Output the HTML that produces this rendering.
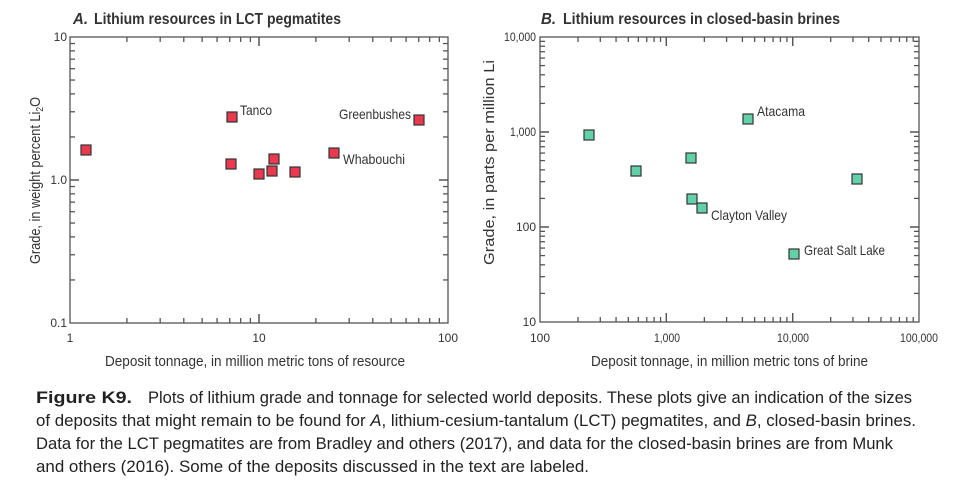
<!DOCTYPE html>
<html><head><meta charset="utf-8"><style>
body{margin:0;background:#fff}
svg{display:block;font-family:"Liberation Sans",sans-serif}
</style></head><body>
<svg id="s" width="960" height="494" viewBox="0 0 960 494">
<g fill="#333">
<text x="73" y="24" font-size="16" font-weight="bold" font-style="italic" textLength="15" lengthAdjust="spacingAndGlyphs">A.</text>
<text x="94" y="24" font-size="16" font-weight="bold" textLength="247" lengthAdjust="spacingAndGlyphs">Lithium resources in LCT pegmatites</text>
<text x="541" y="24" font-size="16" font-weight="bold" font-style="italic" textLength="15" lengthAdjust="spacingAndGlyphs">B.</text>
<text x="563" y="24" font-size="16" font-weight="bold" textLength="277" lengthAdjust="spacingAndGlyphs">Lithium resources in closed-basin brines</text>
<g font-size="12">
<text x="67" y="41" text-anchor="end">10</text>
<text x="67" y="184" text-anchor="end">1.0</text>
<text x="67" y="327" text-anchor="end">0.1</text>
<text x="70" y="342" text-anchor="middle">1</text>
<text x="259" y="342" text-anchor="middle">10</text>
<text x="448" y="342" text-anchor="middle">100</text>
<text x="536" y="41" text-anchor="end" textLength="32" lengthAdjust="spacingAndGlyphs">10,000</text>
<text x="536" y="136" text-anchor="end" textLength="26" lengthAdjust="spacingAndGlyphs">1,000</text>
<text x="536" y="231" text-anchor="end">100</text>
<text x="536" y="326" text-anchor="end">10</text>
<text x="540" y="342" text-anchor="middle">100</text>
<text x="667" y="342" text-anchor="middle" textLength="26" lengthAdjust="spacingAndGlyphs">1,000</text>
<text x="793" y="342" text-anchor="middle" textLength="32" lengthAdjust="spacingAndGlyphs">10,000</text>
<text x="919" y="342" text-anchor="middle" textLength="38" lengthAdjust="spacingAndGlyphs">100,000</text>
</g>
<text x="105" y="366" font-size="15" textLength="300" lengthAdjust="spacingAndGlyphs">Deposit tonnage, in million metric tons of resource</text>
<text x="591" y="366" font-size="15" textLength="277" lengthAdjust="spacingAndGlyphs">Deposit tonnage, in million metric tons of brine</text>
<text transform="translate(40,264) rotate(-90)" font-size="15" textLength="167" lengthAdjust="spacingAndGlyphs">Grade, in weight percent Li<tspan font-size="10" dy="3">2</tspan><tspan dy="-3">O</tspan></text>
<text transform="translate(494,265) rotate(-90)" font-size="15" textLength="205" lengthAdjust="spacingAndGlyphs">Grade, in parts per million Li</text>
<g font-size="14">
<text x="240" y="115" textLength="32" lengthAdjust="spacingAndGlyphs">Tanco</text>
<text x="339" y="119" textLength="72" lengthAdjust="spacingAndGlyphs">Greenbushes</text>
<text x="343" y="164" textLength="62" lengthAdjust="spacingAndGlyphs">Whabouchi</text>
<text x="757" y="116" textLength="48" lengthAdjust="spacingAndGlyphs">Atacama</text>
<text x="711" y="220" textLength="76" lengthAdjust="spacingAndGlyphs">Clayton Valley</text>
<text x="804" y="255" textLength="81" lengthAdjust="spacingAndGlyphs">Great Salt Lake</text>
</g>
<g font-size="17" fill="#222">
<text x="36" y="403" font-weight="bold" textLength="96" lengthAdjust="spacingAndGlyphs">Figure K9.</text>
<text x="148" y="403" textLength="764" lengthAdjust="spacingAndGlyphs">Plots of lithium grade and tonnage for selected world deposits. These plots give an indication of the sizes</text>
<text x="36" y="426" textLength="880" lengthAdjust="spacingAndGlyphs">of deposits that might remain to be found for <tspan font-style="italic">A</tspan>, lithium-cesium-tantalum (LCT) pegmatites, and <tspan font-style="italic">B</tspan>, closed-basin brines.</text>
<text x="36" y="449" textLength="857" lengthAdjust="spacingAndGlyphs">Data for the LCT pegmatites are from Bradley and others (2017), and data for the closed-basin brines are from Munk</text>
<text x="36" y="472" textLength="553" lengthAdjust="spacingAndGlyphs">and others (2016). Some of the deposits discussed in the text are labeled.</text>
</g>
</g>
<g id="ax" stroke="#555" stroke-width="1.3" fill="none">
<rect x="70" y="37" width="378" height="286"/>
<rect x="540" y="37" width="379" height="285"/>
</g>
<g id="pts" stroke="#333" stroke-width="1.2"></g>
</svg>
<script>
var ax=document.getElementById('ax'),pts=document.getElementById('pts'),NS='http://www.w3.org/2000/svg';
function ln(x1,y1,x2,y2){var l=document.createElementNS(NS,'line');l.setAttribute('x1',x1);l.setAttribute('y1',y1);l.setAttribute('x2',x2);l.setAttribute('y2',y2);ax.appendChild(l);}
function ticks(x0,x1,y0,y1,nx,ny){
 var dx=(x1-x0)/nx,dy=(y1-y0)/ny;
 for(var d=0;d<nx;d++)for(var m=1;m<=10;m++){var x=x0+dx*(d+Math.log10(m));var L=(m==1||m==10)?9:5;if(x>x0+1&&x<x1-1){ln(x,y1,x,y1-L);ln(x,y0,x,y0+L);}}
 for(var d=0;d<ny;d++)for(var m=1;m<=10;m++){var y=y1-dy*(d+Math.log10(m));var L=(m==1||m==10)?9:5;if(y<y1-1&&y>y0+1){ln(x0,y,x0+L,y);ln(x1,y,x1-L,y);}}
}
ticks(70,448,37,323,2,2);
ticks(540,919,37,322,3,3);
function sq(x,y,c){var r=document.createElementNS(NS,'rect');r.setAttribute('x',x-5);r.setAttribute('y',y-5);r.setAttribute('width',10);r.setAttribute('height',10);r.setAttribute('fill',c);pts.appendChild(r);}
[[86,150],[232,117],[231,164],[259,174],[272,171],[274,159],[295,172],[334,153],[419,120]].forEach(function(p){sq(p[0],p[1],'#e8394f')});
[[589,135],[636,171],[691,158],[692,199],[702,208],[748,119],[857,179],[794,254]].forEach(function(p){sq(p[0],p[1],'#62d0a9')});
</script>
</body></html>
